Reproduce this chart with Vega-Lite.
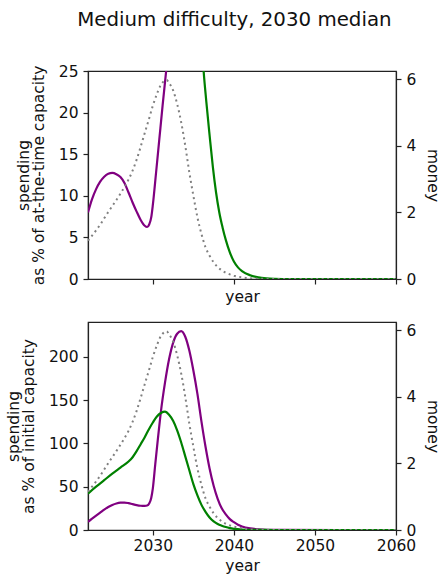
{
  "$schema": "https://vega.github.io/schema/vega-lite/v6.json",
  "title": {"text": "Medium difficulty, 2030 median", "fontSize": 19.8, "fontWeight": "normal", "font": "DejaVu Sans", "color": "#111", "anchor": "middle", "offset": 34, "dx": 11},
  "padding": {"left": 6, "top": 9, "right": 5, "bottom": 5},
  "spacing": 15,
  "datasets": {
    "top": [
      {"year": 2022.0, "series": "purple", "value": 8.0},
      {"year": 2022.5, "series": "purple", "value": 9.6},
      {"year": 2023.0, "series": "purple", "value": 10.8},
      {"year": 2023.5, "series": "purple", "value": 11.7},
      {"year": 2024.0, "series": "purple", "value": 12.3},
      {"year": 2024.5, "series": "purple", "value": 12.65},
      {"year": 2025.0, "series": "purple", "value": 12.75},
      {"year": 2025.5, "series": "purple", "value": 12.6},
      {"year": 2026.0, "series": "purple", "value": 12.25},
      {"year": 2026.5, "series": "purple", "value": 11.55},
      {"year": 2027.0, "series": "purple", "value": 10.4},
      {"year": 2027.5, "series": "purple", "value": 9.2},
      {"year": 2028.0, "series": "purple", "value": 8.1},
      {"year": 2028.5, "series": "purple", "value": 7.1},
      {"year": 2029.0, "series": "purple", "value": 6.4},
      {"year": 2029.3, "series": "purple", "value": 6.25},
      {"year": 2029.55, "series": "purple", "value": 6.55},
      {"year": 2029.8, "series": "purple", "value": 7.4},
      {"year": 2030.0, "series": "purple", "value": 8.9},
      {"year": 2030.4, "series": "purple", "value": 12.8},
      {"year": 2030.8, "series": "purple", "value": 16.8},
      {"year": 2031.2, "series": "purple", "value": 20.8},
      {"year": 2031.6, "series": "purple", "value": 24.6},
      {"year": 2032.0, "series": "purple", "value": 28.5},
      {"year": 2032.5, "series": "purple", "value": 34},
      {"year": 2035.8, "series": "green", "value": 33},
      {"year": 2036.0, "series": "green", "value": 29},
      {"year": 2036.25, "series": "green", "value": 25.2},
      {"year": 2036.6, "series": "green", "value": 21.3},
      {"year": 2037.0, "series": "green", "value": 17.3},
      {"year": 2037.4, "series": "green", "value": 13.5},
      {"year": 2037.8, "series": "green", "value": 10.4},
      {"year": 2038.2, "series": "green", "value": 8.0},
      {"year": 2038.6, "series": "green", "value": 6.2},
      {"year": 2039.0, "series": "green", "value": 4.7},
      {"year": 2039.5, "series": "green", "value": 3.2},
      {"year": 2040.0, "series": "green", "value": 2.1},
      {"year": 2040.5, "series": "green", "value": 1.4},
      {"year": 2041.0, "series": "green", "value": 0.95},
      {"year": 2042.0, "series": "green", "value": 0.45},
      {"year": 2043.0, "series": "green", "value": 0.2},
      {"year": 2044.0, "series": "green", "value": 0.08},
      {"year": 2045.0, "series": "green", "value": 0.03},
      {"year": 2047.0, "series": "green", "value": 0},
      {"year": 2060.0, "series": "green", "value": 0}
    ],
    "bottom": [
      {"year": 2022.0, "series": "purple", "value": 9.5},
      {"year": 2022.5, "series": "purple", "value": 13},
      {"year": 2023.0, "series": "purple", "value": 16.5},
      {"year": 2023.5, "series": "purple", "value": 20},
      {"year": 2024.0, "series": "purple", "value": 23.5},
      {"year": 2024.5, "series": "purple", "value": 26.5},
      {"year": 2025.0, "series": "purple", "value": 28.8},
      {"year": 2025.5, "series": "purple", "value": 30.5},
      {"year": 2026.0, "series": "purple", "value": 31.5},
      {"year": 2026.5, "series": "purple", "value": 31.7},
      {"year": 2027.0, "series": "purple", "value": 31},
      {"year": 2027.5, "series": "purple", "value": 29.8},
      {"year": 2028.0, "series": "purple", "value": 28.7},
      {"year": 2028.5, "series": "purple", "value": 28},
      {"year": 2029.0, "series": "purple", "value": 27.8},
      {"year": 2029.3, "series": "purple", "value": 28.2},
      {"year": 2029.55, "series": "purple", "value": 30.5},
      {"year": 2029.8, "series": "purple", "value": 37},
      {"year": 2030.0, "series": "purple", "value": 48},
      {"year": 2030.3, "series": "purple", "value": 76},
      {"year": 2030.6, "series": "purple", "value": 103},
      {"year": 2031.0, "series": "purple", "value": 137},
      {"year": 2031.5, "series": "purple", "value": 170},
      {"year": 2032.0, "series": "purple", "value": 197},
      {"year": 2032.5, "series": "purple", "value": 216},
      {"year": 2033.0, "series": "purple", "value": 226.5},
      {"year": 2033.5, "series": "purple", "value": 229.5},
      {"year": 2034.0, "series": "purple", "value": 223},
      {"year": 2034.5, "series": "purple", "value": 207},
      {"year": 2035.0, "series": "purple", "value": 184},
      {"year": 2035.5, "series": "purple", "value": 157},
      {"year": 2036.0, "series": "purple", "value": 125},
      {"year": 2036.5, "series": "purple", "value": 96},
      {"year": 2037.0, "series": "purple", "value": 71},
      {"year": 2037.5, "series": "purple", "value": 51},
      {"year": 2038.0, "series": "purple", "value": 36},
      {"year": 2038.5, "series": "purple", "value": 25},
      {"year": 2039.0, "series": "purple", "value": 18},
      {"year": 2039.5, "series": "purple", "value": 12.5},
      {"year": 2040.0, "series": "purple", "value": 9},
      {"year": 2040.5, "series": "purple", "value": 6},
      {"year": 2041.0, "series": "purple", "value": 4},
      {"year": 2042.0, "series": "purple", "value": 1.8},
      {"year": 2043.0, "series": "purple", "value": 0.8},
      {"year": 2044.0, "series": "purple", "value": 0.3},
      {"year": 2046.0, "series": "purple", "value": 0.05},
      {"year": 2060.0, "series": "purple", "value": 0},
      {"year": 2022.0, "series": "green", "value": 42},
      {"year": 2023.0, "series": "green", "value": 50},
      {"year": 2024.0, "series": "green", "value": 57.5},
      {"year": 2025.0, "series": "green", "value": 65},
      {"year": 2026.0, "series": "green", "value": 72},
      {"year": 2027.0, "series": "green", "value": 79},
      {"year": 2027.5, "series": "green", "value": 84},
      {"year": 2028.0, "series": "green", "value": 91},
      {"year": 2028.5, "series": "green", "value": 99},
      {"year": 2029.0, "series": "green", "value": 107},
      {"year": 2029.5, "series": "green", "value": 116},
      {"year": 2030.0, "series": "green", "value": 124},
      {"year": 2030.5, "series": "green", "value": 131},
      {"year": 2031.0, "series": "green", "value": 135},
      {"year": 2031.5, "series": "green", "value": 136.5},
      {"year": 2032.0, "series": "green", "value": 133},
      {"year": 2032.5, "series": "green", "value": 126},
      {"year": 2033.0, "series": "green", "value": 115},
      {"year": 2033.5, "series": "green", "value": 101},
      {"year": 2034.0, "series": "green", "value": 85},
      {"year": 2034.5, "series": "green", "value": 69},
      {"year": 2035.0, "series": "green", "value": 53},
      {"year": 2035.5, "series": "green", "value": 40},
      {"year": 2036.0, "series": "green", "value": 29},
      {"year": 2036.5, "series": "green", "value": 21},
      {"year": 2037.0, "series": "green", "value": 14.5},
      {"year": 2037.5, "series": "green", "value": 10},
      {"year": 2038.0, "series": "green", "value": 7},
      {"year": 2038.5, "series": "green", "value": 5},
      {"year": 2039.0, "series": "green", "value": 3.4},
      {"year": 2039.5, "series": "green", "value": 2.2},
      {"year": 2040.0, "series": "green", "value": 1.4},
      {"year": 2041.0, "series": "green", "value": 0.6},
      {"year": 2042.0, "series": "green", "value": 0.25},
      {"year": 2043.0, "series": "green", "value": 0.1},
      {"year": 2045.0, "series": "green", "value": 0},
      {"year": 2060.0, "series": "green", "value": 0}
    ],
    "money": [
      {"year": 2022.0, "money": 1.15},
      {"year": 2022.5, "money": 1.3},
      {"year": 2023.0, "money": 1.46},
      {"year": 2023.5, "money": 1.63},
      {"year": 2024.0, "money": 1.82},
      {"year": 2024.5, "money": 2.01},
      {"year": 2025.0, "money": 2.19},
      {"year": 2025.5, "money": 2.37},
      {"year": 2026.0, "money": 2.56},
      {"year": 2026.5, "money": 2.76},
      {"year": 2027.0, "money": 2.98},
      {"year": 2027.5, "money": 3.25},
      {"year": 2028.0, "money": 3.58},
      {"year": 2028.5, "money": 3.97},
      {"year": 2029.0, "money": 4.38},
      {"year": 2029.5, "money": 4.78},
      {"year": 2030.0, "money": 5.2},
      {"year": 2030.5, "money": 5.55},
      {"year": 2031.0, "money": 5.83},
      {"year": 2031.4, "money": 5.94},
      {"year": 2031.7, "money": 5.97},
      {"year": 2032.0, "money": 5.88},
      {"year": 2032.5, "money": 5.66},
      {"year": 2033.0, "money": 5.25},
      {"year": 2033.5, "money": 4.7},
      {"year": 2034.0, "money": 4.0},
      {"year": 2034.5, "money": 3.2},
      {"year": 2035.0, "money": 2.5},
      {"year": 2035.5, "money": 1.85},
      {"year": 2036.0, "money": 1.35},
      {"year": 2036.5, "money": 0.95},
      {"year": 2037.0, "money": 0.7},
      {"year": 2037.5, "money": 0.5},
      {"year": 2038.0, "money": 0.36},
      {"year": 2038.5, "money": 0.26},
      {"year": 2039.0, "money": 0.19},
      {"year": 2039.5, "money": 0.14},
      {"year": 2040.0, "money": 0.1},
      {"year": 2041.0, "money": 0.05},
      {"year": 2042.0, "money": 0.02},
      {"year": 2043.0, "money": 0.01},
      {"year": 2045.0, "money": 0},
      {"year": 2060.0, "money": 0}
    ]
  },
  "vconcat": [
    {
      "width": 308,
      "height": 208,
      "layer": [
        {
          "data": {"name": "top"},
          "mark": {"type": "line", "clip": true, "strokeWidth": 2.2, "interpolate": "monotone"},
          "encoding": {
            "x": {"field": "year", "type": "quantitative", "scale": {"domain": [2022, 2060], "nice": false, "zero": false},
                  "axis": {"title": "year", "labels": false, "values": [2030, 2040, 2050, 2060], "titlePadding": 5}},
            "y": {"field": "value", "type": "quantitative", "scale": {"domain": [0, 25], "nice": false},
                  "axis": {"title": ["spending", "as % of at-the-time capacity"], "values": [0, 5, 10, 15, 20, 25]}},
            "color": {"field": "series", "type": "nominal", "scale": {"domain": ["purple", "green"], "range": ["#800080", "#008000"]}, "legend": null}
          }
        },
        {
          "data": {"name": "money"},
          "mark": {"type": "line", "clip": true, "color": "#808080", "strokeWidth": 2, "strokeDash": [2, 3.5], "interpolate": "monotone"},
          "encoding": {
            "x": {"field": "year", "type": "quantitative"},
            "y": {"field": "money", "type": "quantitative", "scale": {"domain": [0, 6.24], "nice": false},
                  "axis": {"orient": "right", "title": "money", "values": [0, 2, 4, 6], "titlePadding": 9}}
          }
        }
      ],
      "resolve": {"scale": {"y": "independent"}}
    },
    {
      "width": 308,
      "height": 208,
      "layer": [
        {
          "data": {"name": "bottom"},
          "mark": {"type": "line", "clip": true, "strokeWidth": 2.2, "interpolate": "monotone"},
          "encoding": {
            "x": {"field": "year", "type": "quantitative", "scale": {"domain": [2022, 2060], "nice": false, "zero": false},
                  "axis": {"title": "year", "format": "d", "values": [2030, 2040, 2050, 2060]}},
            "y": {"field": "value", "type": "quantitative", "scale": {"domain": [0, 240], "nice": false},
                  "axis": {"title": ["spending", "as % of initial capacity"], "values": [0, 50, 100, 150, 200]}},
            "color": {"field": "series", "type": "nominal", "scale": {"domain": ["purple", "green"], "range": ["#800080", "#008000"]}, "legend": null}
          }
        },
        {
          "data": {"name": "money"},
          "mark": {"type": "line", "clip": true, "color": "#808080", "strokeWidth": 2, "strokeDash": [2, 3.5], "interpolate": "monotone"},
          "encoding": {
            "x": {"field": "year", "type": "quantitative"},
            "y": {"field": "money", "type": "quantitative", "scale": {"domain": [0, 6.25], "nice": false},
                  "axis": {"orient": "right", "title": "money", "values": [0, 2, 4, 6], "titlePadding": 9}}
          }
        }
      ],
      "resolve": {"scale": {"y": "independent"}}
    }
  ],
  "config": {
    "font": "DejaVu Sans",
    "view": {"stroke": "#222", "strokeWidth": 1.2},
    "axis": {
      "grid": false,
      "domainColor": "#222",
      "domainWidth": 1.2,
      "tickColor": "#222",
      "tickWidth": 1.2,
      "tickSize": 5,
      "labelFont": "DejaVu Sans",
      "labelFontSize": 15.5,
      "labelColor": "#111",
      "labelFlush": false,
      "titleFont": "DejaVu Sans",
      "titleFontSize": 15.5,
      "titleFontWeight": "normal",
      "titleColor": "#111",
      "titleLineHeight": 15
    },
    "axisX": {"labelPadding": 3, "titlePadding": 5},
    "axisY": {"labelPadding": 5, "titlePadding": 11.5}
  }
}
